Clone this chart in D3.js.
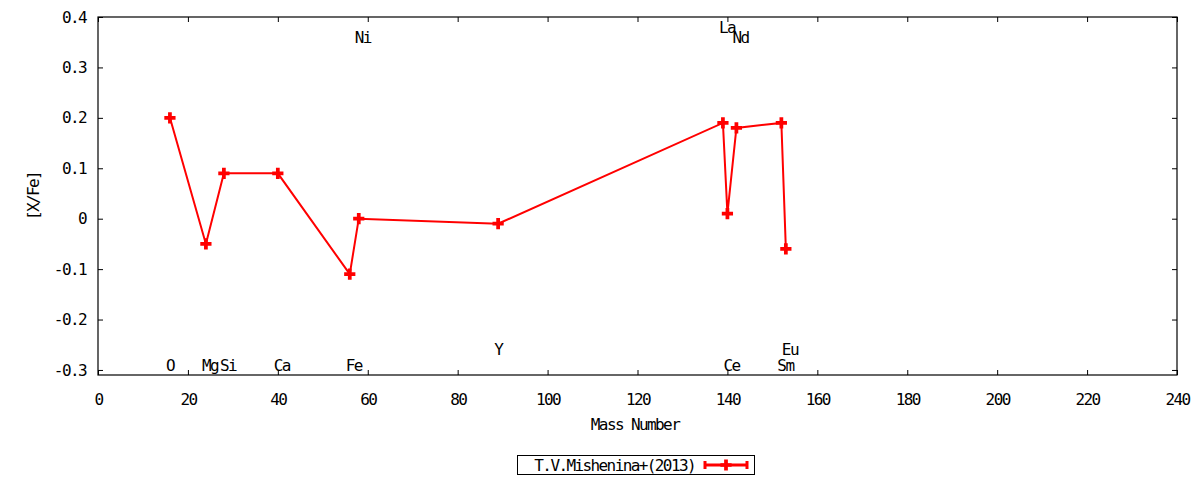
<!DOCTYPE html>
<html>
  <head>
    <script src="https://cdn.jsdelivr.net/npm/d3@7"></script>
    <style>
      body { margin: 0; background: #fff; }
      text { font-family: "DejaVu Sans Mono", monospace; font-size: 16px; letter-spacing: -1.6px; fill: #000; }
    </style>
  </head>
  <body>
    <svg width="1200" height="480"></svg>
  <script>
    // values
    const masses = [16, 24, 28, 40, 56, 58, 89, 139, 140, 142, 152, 153];
    const abund  = [0.2, -0.05, 0.09, 0.09, -0.11, 0.0, -0.01, 0.19, 0.01, 0.18, 0.19, -0.06];
    const elements = ['O', 'Mg', 'Si', 'Ca', 'Fe', 'Ni', 'Y', 'La', 'Ce', 'Nd', 'Sm', 'Eu'];
    const labelY = [-0.29, -0.29, -0.29, -0.29, -0.29, 0.36, -0.26, 0.38, -0.29, 0.36, -0.29, -0.26];
    const xTicks = [0, 20, 40, 60, 80, 100, 120, 140, 160, 180, 200, 220, 240];
    const yTicks = [-0.3, -0.2, -0.1, 0, 0.1, 0.2, 0.3, 0.4];
    const seriesName = 'T.V.Mishenina+(2013)';

    const svg = d3.select('svg');
    const margin = { top: 17, right: 23, bottom: 105, left: 98 };
    const width = 1200 - margin.left - margin.right;
    const height = 480 - margin.top - margin.bottom;
    const red = '#ff0000';

    const x = d3.scaleLinear().domain([0, 240]).range([0, width]);
    const y = d3.scaleLinear().domain([-0.31, 0.4]).range([height, 0]);

    const g = svg.append('g')
      .attr('transform', `translate(${margin.left},${margin.top})`);

    const fmt = d => String(+d.toFixed(1));

    // axes with inward ticks, mirrored on top/right
    const styleAxis = sel => {
      sel.select('.domain').remove();
      sel.selectAll('.tick line').attr('stroke', '#000');
      sel.attr('font-family', null).attr('font-size', null);
    };
    g.append('g').attr('transform', `translate(0,${height})`)
      .call(d3.axisBottom(x).tickValues(xTicks).tickSize(-5).tickPadding(19).tickFormat(d3.format('d')))
      .call(styleAxis);
    g.append('g')
      .call(d3.axisTop(x).tickValues(xTicks).tickSize(-5).tickFormat(''))
      .call(styleAxis);
    g.append('g')
      .call(d3.axisLeft(y).tickValues(yTicks).tickSize(-5).tickPadding(12).tickFormat(fmt))
      .call(styleAxis);
    g.append('g').attr('transform', `translate(${width},0)`)
      .call(d3.axisRight(y).tickValues(yTicks).tickSize(-5).tickFormat(''))
      .call(styleAxis);

    g.append('rect')
      .attr('width', width).attr('height', height)
      .attr('fill', 'none').attr('stroke', '#000').attr('stroke-width', 1.2);

    const data = masses.map((m, i) => ({ m, v: abund[i], el: elements[i], ly: labelY[i] }));

    // element labels
    g.selectAll('.el').data(data).enter().append('text')
      .attr('class', 'el')
      .attr('x', d => x(d.m) - 4)
      .attr('y', d => y(d.ly))
      .attr('dy', '0.35em')
      .text(d => d.el);

    // line + points
    g.append('path').datum(data)
      .attr('fill', 'none').attr('stroke', red).attr('stroke-width', 2)
      .attr('d', d3.line().x(d => x(d.m)).y(d => y(d.v)));

    const plus = d3.symbol().type(d3.symbolCross).size(70);
    g.selectAll('.pt').data(data).enter().append('path')
      .attr('class', 'pt')
      .attr('transform', d => `translate(${x(d.m)},${y(d.v)})`)
      .attr('d', plus)
      .attr('fill', red);

    // axis titles
    svg.append('text')
      .attr('x', 635).attr('y', 424).attr('dy', '0.35em')
      .attr('text-anchor', 'middle')
      .text('Mass Number');
    svg.append('text')
      .attr('transform', 'translate(33,196) rotate(-90)')
      .attr('dy', '0.35em')
      .attr('text-anchor', 'middle')
      .text('[X/Fe]');

    // legend
    const lg = svg.append('g');
    lg.append('rect')
      .attr('x', 517.5).attr('y', 455.5).attr('width', 237).attr('height', 19)
      .attr('fill', 'none').attr('stroke', '#000');
    lg.append('text')
      .attr('x', 695).attr('y', 465).attr('dy', '0.35em')
      .attr('text-anchor', 'end')
      .text(seriesName);
    lg.append('line')
      .attr('x1', 705).attr('x2', 747).attr('y1', 465).attr('y2', 465)
      .attr('stroke', red).attr('stroke-width', 3);
    [705, 747].forEach(cx => lg.append('line')
      .attr('x1', cx).attr('x2', cx).attr('y1', 461).attr('y2', 469)
      .attr('stroke', red).attr('stroke-width', 3));
    lg.append('path')
      .attr('transform', 'translate(726,465)')
      .attr('d', plus)
      .attr('fill', red);
  </script>
  </body>
</html>
